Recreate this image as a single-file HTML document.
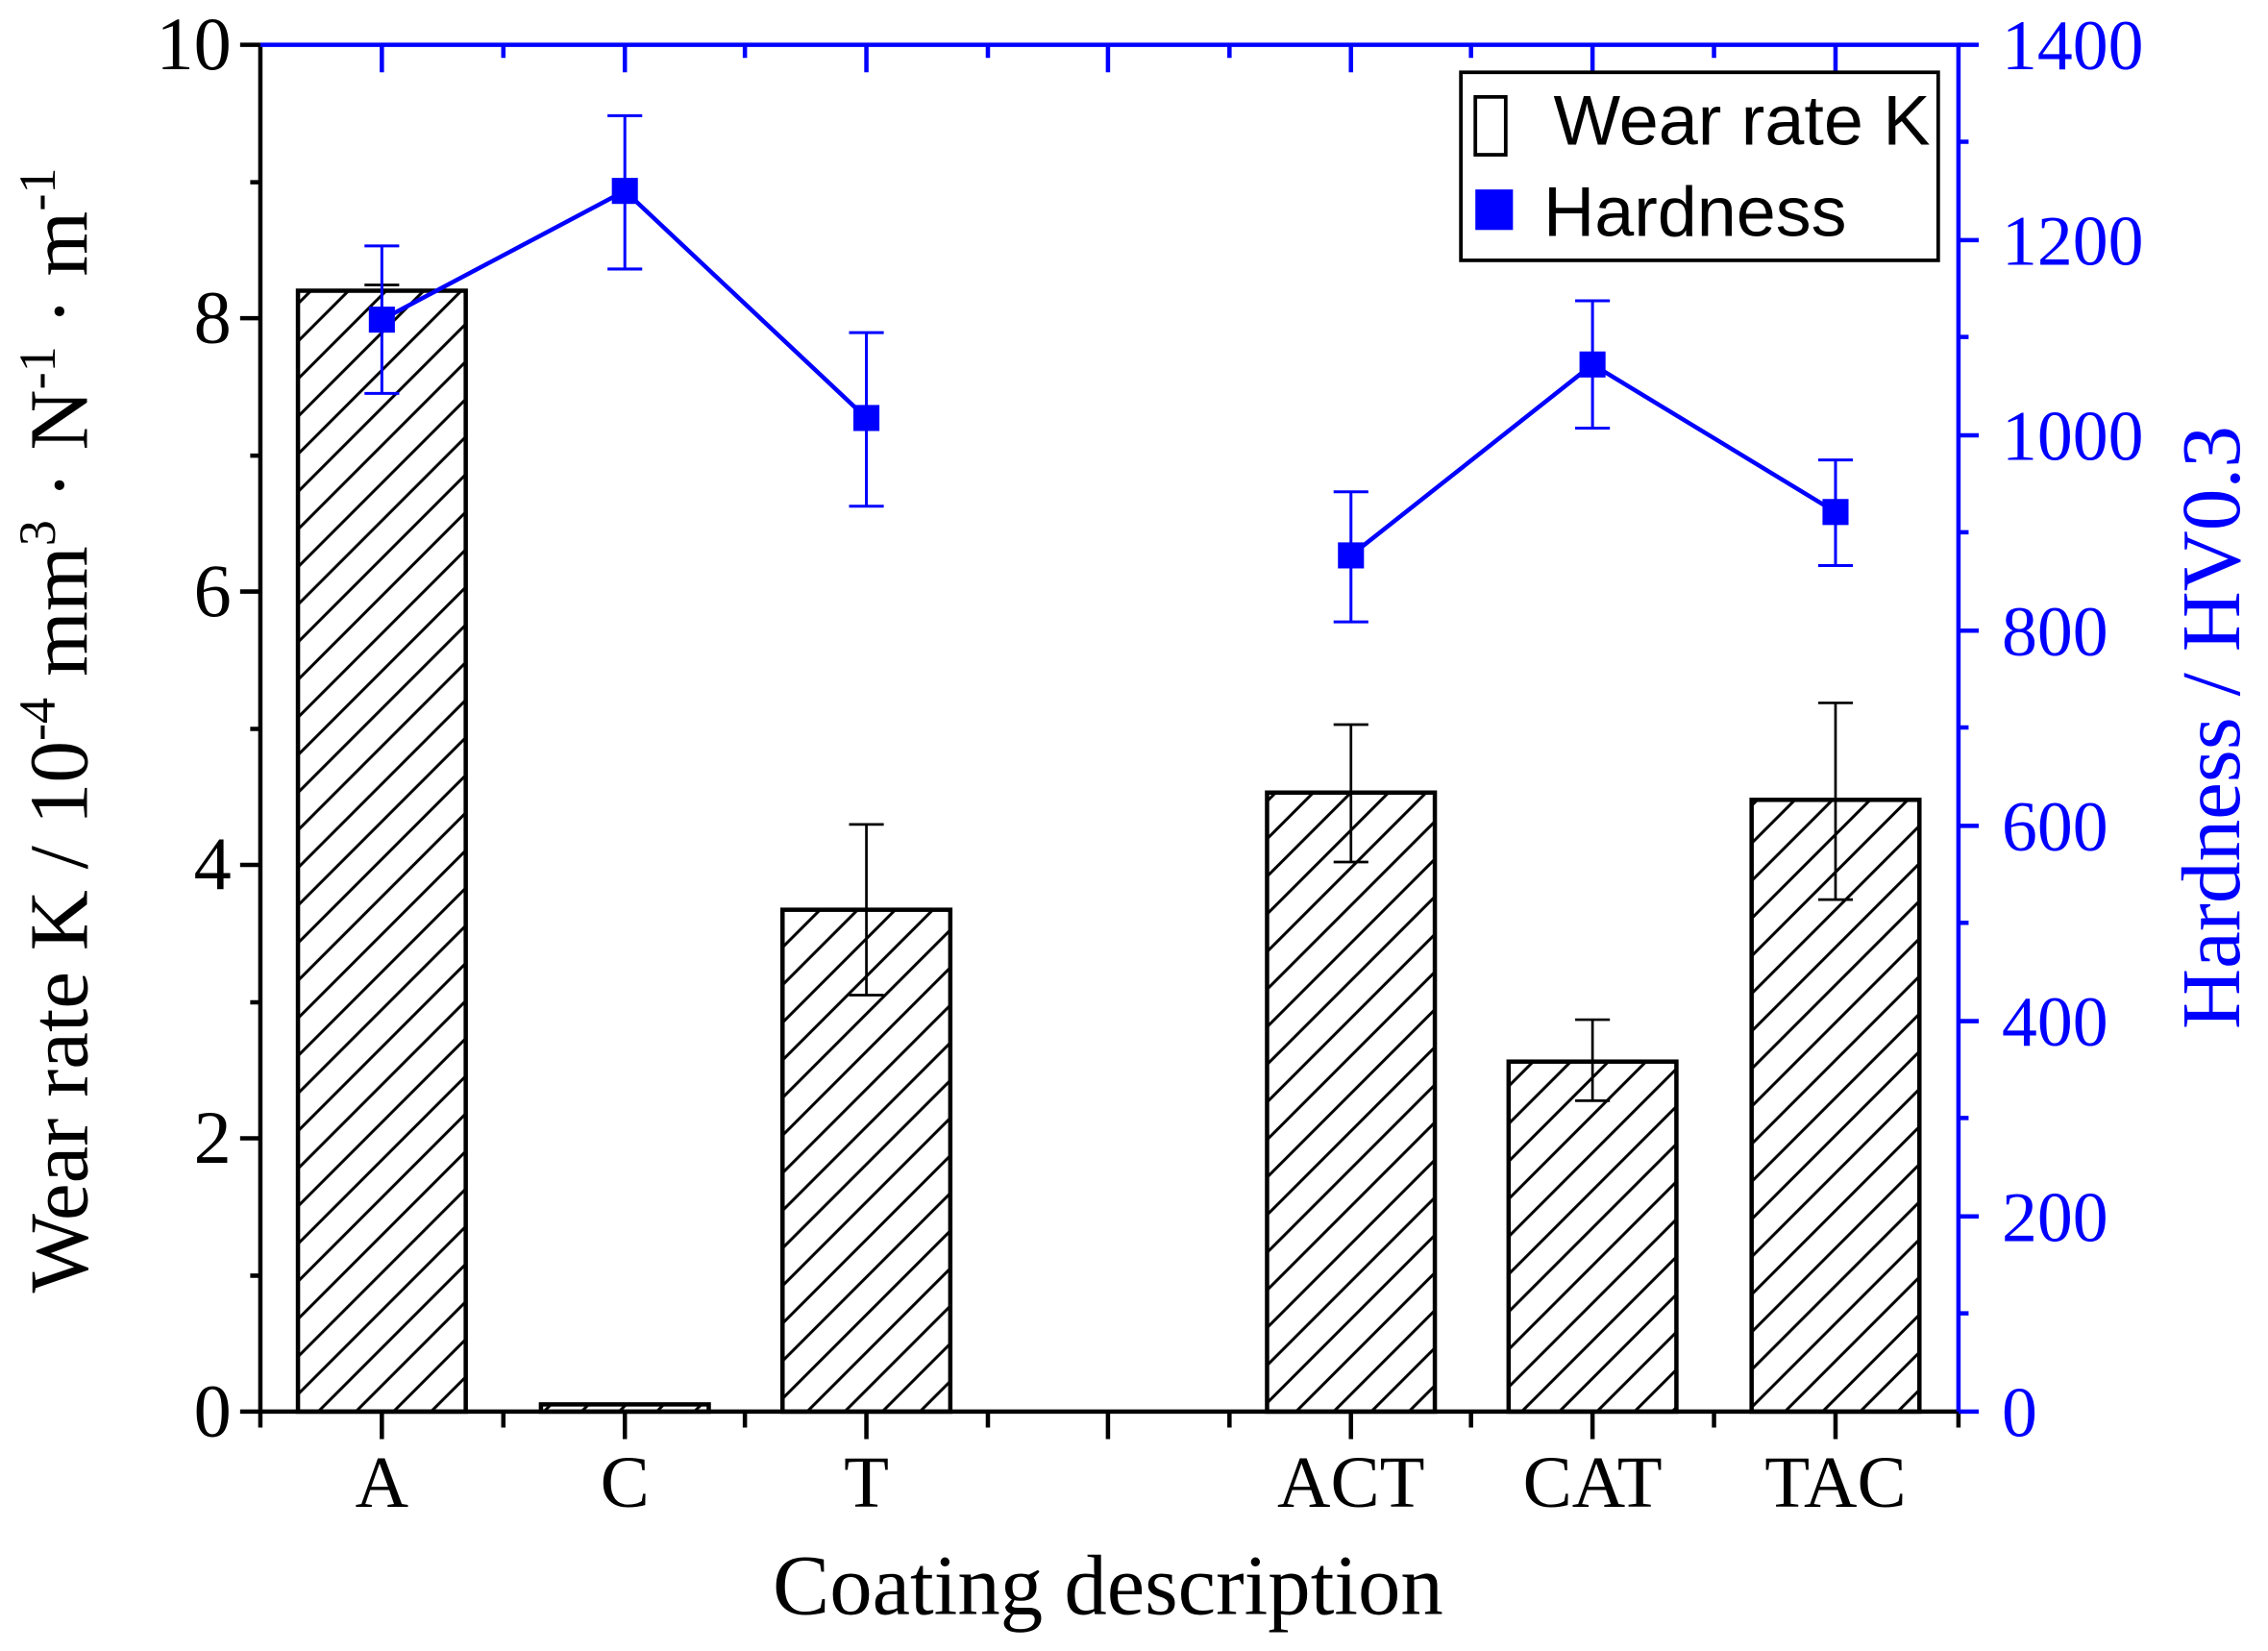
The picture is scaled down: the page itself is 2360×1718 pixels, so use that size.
<!DOCTYPE html>
<html><head><meta charset="utf-8"><style>html,body{margin:0;padding:0;background:#fff}svg{display:block}</style></head>
<body>
<svg width="2360" height="1718" viewBox="0 0 1568 1141.5" preserveAspectRatio="none" xmlns="http://www.w3.org/2000/svg">
<defs>
<pattern id="h" patternUnits="userSpaceOnUse" width="26" height="26">
<path d="M-6.5,6.5 L6.5,-6.5 M0,26 L26,0 M19.5,32.5 L32.5,19.5" stroke="#000" stroke-width="2"/>
</pattern>
</defs>
<g font-family="Liberation Serif, serif">
<g stroke="#000" stroke-width="3" fill="url(#h)">
<rect x="206" y="201" width="116" height="775"/>
<rect x="374" y="971" width="116" height="5"/>
<rect x="541" y="629" width="116" height="347"/>
<rect x="876" y="548" width="116" height="428"/>
<rect x="1043" y="734" width="116" height="242"/>
<rect x="1211" y="553" width="116" height="423"/>
</g>
<g stroke="#000" stroke-width="1.8" fill="none">
<path d="M264,201V197M252,197H276"/>
<path d="M599,688V570M587,688H611M587,570H611"/>
<path d="M934,596V501M922,596H946M922,501H946"/>
<path d="M1101,761V705M1089,761H1113M1089,705H1113"/>
<path d="M1269,622V486M1257,622H1281M1257,486H1281"/>
</g>
<g stroke="#00f" stroke-width="2" fill="none">
<path d="M264,272V170M252,272H276M252,170H276"/>
<path d="M432,186V80M420,186H444M420,80H444"/>
<path d="M599,350V230M587,350H611M587,230H611"/>
<path d="M934,430V340M922,430H946M922,340H946"/>
<path d="M1101,296V208M1089,296H1113M1089,208H1113"/>
<path d="M1269,391V318M1257,391H1281M1257,318H1281"/>
<polyline stroke-width="3" points="264,221 432,132 599,289"/>
<polyline stroke-width="3" points="934,384 1101,252 1269,354"/>
</g>
<g fill="#00f">
<rect x="255" y="212" width="18" height="18"/>
<rect x="423" y="123" width="18" height="18"/>
<rect x="590" y="280" width="18" height="18"/>
<rect x="925" y="375" width="18" height="18"/>
<rect x="1092" y="243" width="18" height="18"/>
<rect x="1260" y="345" width="18" height="18"/>
</g>
<path d="M180,31V976H1354" stroke="#000" stroke-width="3" fill="none"/>
<path d="M180,31H1354V976" stroke="#00f" stroke-width="3" fill="none"/>
<g stroke="#000" stroke-width="3">
<path d="M166,31H180M166,220H180M166,409H180M166,598H180M166,787H180M166,976H180"/>
<path d="M173,126H180M173,315H180M173,504H180M173,693H180M173,882H180"/>
<path d="M264,976V995M432,976V995M599,976V995M766,976V995M934,976V995M1101,976V995M1269,976V995"/>
<path d="M180,976V987M348,976V987M515,976V987M683,976V987M850,976V987M1017,976V987M1185,976V987M1354,976V987"/>
</g>
<g stroke="#00f" stroke-width="3">
<path d="M1354,31H1368M1354,166H1368M1354,301H1368M1354,436H1368M1354,571H1368M1354,706H1368M1354,841H1368M1354,976H1368"/>
<path d="M1354,98H1361M1354,233H1361M1354,368H1361M1354,503H1361M1354,638H1361M1354,773H1361M1354,908H1361"/>
<path d="M264,31V50M432,31V50M599,31V50M766,31V50M934,31V50M1101,31V50M1269,31V50"/>
<path d="M348,31V40M515,31V40M683,31V40M850,31V40M1017,31V40M1185,31V40"/>
</g>
<g font-size="52" text-anchor="end" fill="#000">
<text x="160" y="48">10</text><text x="160" y="237">8</text><text x="160" y="426">6</text>
<text x="160" y="615">4</text><text x="160" y="804">2</text><text x="160" y="993">0</text>
</g>
<g font-size="49" fill="#00f">
<text x="1384" y="48">1400</text><text x="1384" y="183">1200</text><text x="1384" y="318">1000</text>
<text x="1384" y="453">800</text><text x="1384" y="588">600</text><text x="1384" y="723">400</text>
<text x="1384" y="858">200</text><text x="1384" y="993">0</text>
</g>
<g font-size="51" text-anchor="middle" fill="#000">
<text x="264" y="1042">A</text><text x="432" y="1042">C</text><text x="599" y="1042">T</text>
<text x="934" y="1042">ACT</text><text x="1101" y="1042">CAT</text><text x="1269" y="1042">TAC</text>
</g>
<text x="766" y="1116" font-size="59" text-anchor="middle">Coating description</text>
<text transform="translate(60,505) rotate(-90)" font-size="58" text-anchor="middle">Wear rate K / 10<tspan font-size="36" dy="-22">-4</tspan><tspan dy="22"> mm</tspan><tspan font-size="36" dy="-22">3</tspan><tspan dy="22"> · N</tspan><tspan font-size="36" dy="-22">-1</tspan><tspan dy="22"> · m</tspan><tspan font-size="36" dy="-22">-1</tspan></text>
<text transform="translate(1548,503) rotate(-90)" font-size="58" text-anchor="middle" fill="#00f">Hardness / HV0.3</text>
</g>
<rect x="1010" y="50" width="330" height="130" fill="#fff" stroke="#000" stroke-width="2.5"/>
<rect x="1020" y="67" width="21" height="40" fill="none" stroke="#000" stroke-width="2.5"/>
<rect x="1020" y="131" width="26" height="28" fill="#00f"/>
<g font-family="Liberation Sans, sans-serif" font-size="49" fill="#000">
<text x="1074" y="100">Wear rate K</text>
<text x="1067" y="163">Hardness</text>
</g>
</svg>
</body></html>
